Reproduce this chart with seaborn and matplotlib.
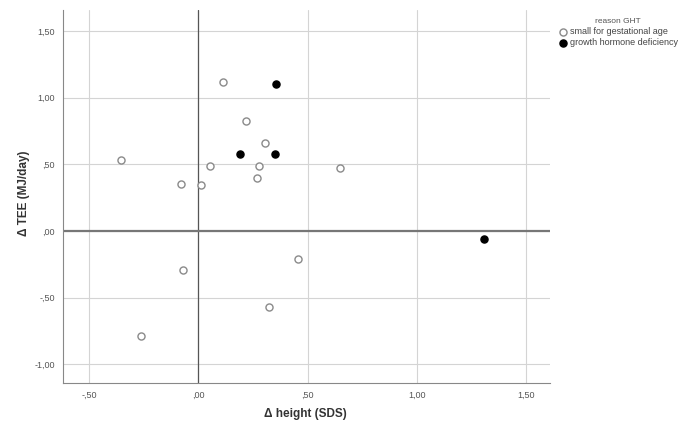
import matplotlib
matplotlib.use("Agg")
import matplotlib.pyplot as plt
import seaborn as sns
import pandas as pd

# Data
sga_height = [0.115, 0.22, 0.305, -0.355, 0.054, 0.28, 0.648, 0.267, -0.079, 0.014, 0.456, -0.069, 0.325, -0.262]
sga_tee = [1.114, 0.826, 0.661, 0.532, 0.487, 0.489, 0.474, 0.395, 0.354, 0.342, -0.212, -0.292, -0.572, -0.785]
ghd_height = [0.354, 0.191, 0.351, 1.307]
ghd_tee = [1.103, 0.574, 0.574, -0.06]

groups = ["small for gestational age", "growth hormone deficiency"]
legend_title = "reason GHT"

x_ticks = [-0.5, 0.0, 0.5, 1.0, 1.5]
x_ticklabels = ["-,50", ",00", ",50", "1,00", "1,50"]
y_ticks = [-1.0, -0.5, 0.0, 0.5, 1.0, 1.5]
y_ticklabels = ["-1,00", "-,50", ",00", ",50", "1,00", "1,50"]

df = pd.DataFrame({
    "height": sga_height + ghd_height,
    "tee": sga_tee + ghd_tee,
    "group": [groups[0]] * len(sga_height) + [groups[1]] * len(ghd_height),
})

sns.set_style("white")
plt.rcParams["font.family"] = ["Liberation Sans", "DejaVu Sans"]

fig = plt.figure(figsize=(7, 4.25), dpi=100)
ax = fig.add_axes([0.09, 0.099, 0.696, 0.877])

# grid lines
for xt in x_ticks:
    ax.axvline(xt, color="#d4d4d4", lw=0.8, zorder=0)
for yt in y_ticks:
    ax.axhline(yt, color="#d4d4d4", lw=0.8, zorder=0)
# reference lines
ax.axvline(0, color="#555555", lw=0.9, zorder=1)
ax.axhline(0, color="#777777", lw=1.6, zorder=1)

sub0 = df[df["group"] == groups[0]]
sub1 = df[df["group"] == groups[1]]
sns.scatterplot(data=sub0, x="height", y="tee", ax=ax, marker="o", s=26,
                facecolor="white", edgecolor="#8a8a8a", linewidth=1.0, zorder=3,
                label=groups[0])
sns.scatterplot(data=sub1, x="height", y="tee", ax=ax, marker="o", s=26,
                color="black", edgecolor="black", linewidth=1.0, zorder=3,
                label=groups[1])

ax.set_xlim(-0.619, 1.61)
ax.set_ylim(-1.139, 1.655)
ax.set_xticks(x_ticks)
ax.set_xticklabels(x_ticklabels)
ax.set_yticks(y_ticks)
ax.set_yticklabels(y_ticklabels)
ax.tick_params(axis="both", labelsize=6.5, colors="#555555", length=0, pad=6)

for side in ["top", "right"]:
    ax.spines[side].set_visible(False)
for side in ["left", "bottom"]:
    ax.spines[side].set_color("#888888")
    ax.spines[side].set_linewidth(0.8)

ax.set_xlabel("Δ height (SDS)", fontsize=8.5, fontweight="bold", color="#333333")
ax.set_ylabel("Δ TEE (MJ/day)", fontsize=8.5, fontweight="bold", color="#333333")
ax.xaxis.set_label_coords(0.497, -0.068)
ax.yaxis.set_label_coords(-0.068, 0.51)

leg = ax.legend(title=legend_title, loc="upper left", bbox_to_anchor=(1.0, 1.0),
                frameon=False, fontsize=6.5, title_fontsize=6, handletextpad=0.3,
                borderaxespad=0.5, labelspacing=0.2, handlelength=1.0)
leg.get_title().set_color("#555555")
for t in leg.get_texts():
    t.set_color("#444444")

fig.savefig("out.png", dpi=100)
